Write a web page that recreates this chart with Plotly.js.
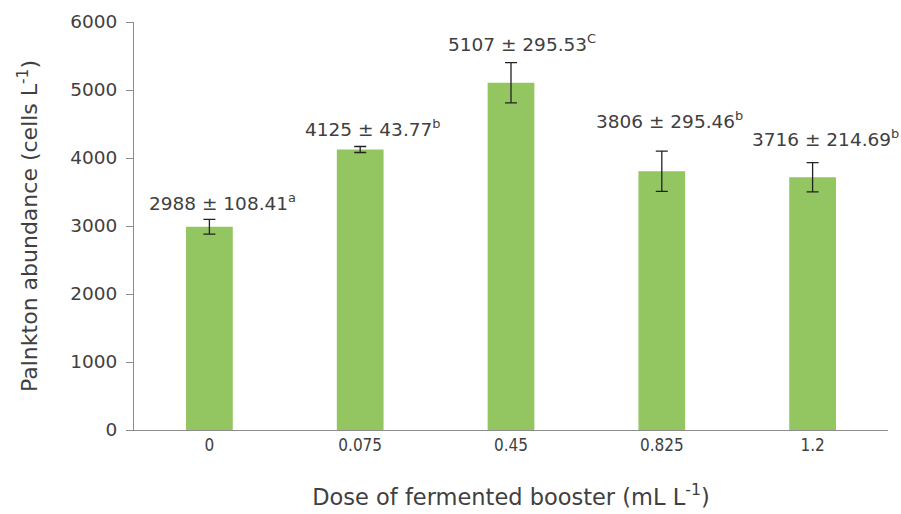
<!DOCTYPE html>
<html>
<head>
<meta charset="utf-8">
<script src="https://cdn.plot.ly/plotly-3.0.1.min.js"></script>
<style>html,body{margin:0;padding:0;background:#fff;}#chart{width:901px;height:514px;}</style>
</head>
<body>
<div id="chart"></div>
<script>
const doses = ["0", "0.075", "0.45", "0.825", "1.2"];
const abundance = [2988, 4125, 5107, 3806, 3716];
const sdev = [108.41, 43.77, 295.53, 295.46, 214.69];
const letters = ["a", "b", "C", "b", "b"];
const yTicks = [0, 1000, 2000, 3000, 4000, 5000, 6000];

const labelShift = [3, 5, 6, 17, 11];
const labelDx = [13, 13, 11, 8, 13];

const txtColor = "#404040";
const annotations = doses.map((d, i) => ({
  x: i, y: abundance[i] + sdev[i], xref: "x", yref: "y",
  text: abundance[i] + " \u00b1 " + sdev[i].toFixed(2) + "<sup>" + letters[i] + "</sup>",
  showarrow: false, yanchor: "bottom", xanchor: "center",
  xshift: labelDx[i], yshift: labelShift[i],
  font: {family: "DejaVu Sans", size: 18.5, color: txtColor}
}));

const trace = {
  type: "bar", x: doses, y: abundance,
  marker: {color: "#93c660"},
  width: 0.31,
  error_y: {type: "data", array: sdev, visible: true, color: "#222", thickness: 1.3, width: 6},
  hoverinfo: "none"
};

const layout = {
  width: 901, height: 514,
  margin: {l: 134, r: 13, t: 22, b: 84},
  paper_bgcolor: "#fff", plot_bgcolor: "#fff",
  showlegend: false,
  font: {family: "DejaVu Sans", color: txtColor},
  xaxis: {
    type: "category", range: [-0.5, doses.length - 0.5], automargin: false,
    showline: true, linecolor: "#8c8c8c", linewidth: 1,
    ticks: "", showgrid: false, zeroline: false,
    tickfont: {family: "DejaVu Sans Condensed", size: 17, color: txtColor},
    tickangle: 0,
    title: {text: "Dose of fermented booster (mL L<sup>-1</sup>)", standoff: 34,
      font: {family: "DejaVu Sans", size: 22.5, color: txtColor}}
  },
  yaxis: {
    range: [0, 6000], automargin: false, tickvals: yTicks, ticktext: yTicks.map(String),
    showline: true, linecolor: "#8c8c8c", linewidth: 1,
    ticks: "outside", ticklen: 7, tickcolor: "#8c8c8c",
    ticklabelstandoff: 5,
    showgrid: false, zeroline: false,
    tickfont: {family: "DejaVu Sans", size: 18.5, color: txtColor},
    title: {text: "Palnkton abundance (cells L<sup>-1</sup>)", standoff: 26,
      font: {family: "DejaVu Sans", size: 22, color: txtColor}}
  },
  annotations: annotations
};

Plotly.newPlot("chart", [trace], layout, {displayModeBar: false, staticPlot: true});
</script>
</body>
</html>
